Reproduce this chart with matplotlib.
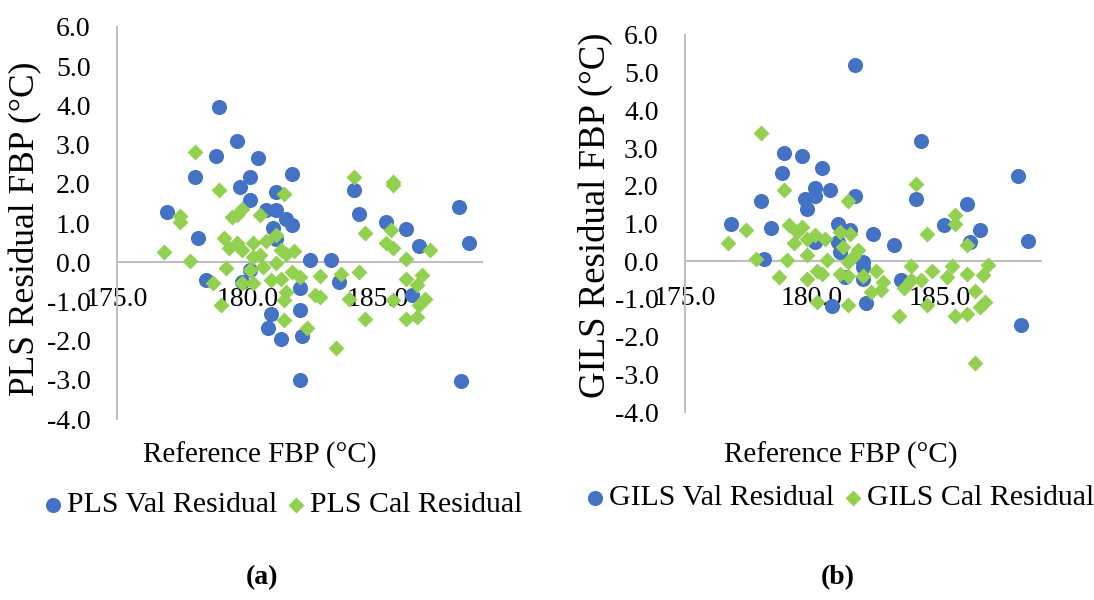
import matplotlib.pyplot as plt
from matplotlib.ticker import StrMethodFormatter

plt.rcParams['font.family'] = ['Liberation Serif', 'DejaVu Serif']
plt.rcParams['axes.unicode_minus'] = False

# (a) PLS residuals
pls_val_x = [178.9, 179.6, 178.8, 180.4, 178.0, 180.1, 181.7, 179.7, 181.1, 180.1,
             184.1, 176.9, 180.7, 181.1, 184.3, 188.1, 181.5, 181.7, 185.3, 186.1,
             188.5, 178.1, 181.0, 181.1, 186.6, 182.4, 183.2, 178.4, 180.1, 179.8,
             183.5, 182.0, 186.3, 182.0, 180.9, 180.8, 181.3, 182.1, 182.0, 188.2]
pls_val_y = [3.96, 3.09, 2.70, 2.67, 2.18, 2.18, 2.25, 1.92, 1.79, 1.58,
             1.84, 1.27, 1.34, 1.33, 1.22, 1.41, 1.10, 0.94, 1.03, 0.84,
             0.50, 0.63, 0.86, 0.60, 0.42, 0.05, 0.05, -0.46, -0.20, -0.50,
             -0.50, -0.67, -0.84, -1.21, -1.33, -1.69, -1.97, -1.89, -3.01, -3.03]

pls_cal_x = [178.0, 178.9, 184.1, 185.6, 185.6, 181.4, 177.4, 177.4, 176.8, 177.8,
             179.1, 179.4, 179.6, 179.8, 179.6, 179.3, 179.8, 180.2, 180.5, 180.7,
             181.1, 180.2, 180.5, 181.3, 181.5, 181.8, 180.6, 181.1, 179.2, 180.1,
             178.7, 179.0, 179.8, 180.2, 180.9, 181.3, 181.7, 182.0, 181.5, 181.4,
             182.6, 182.8, 182.8, 183.6, 181.4, 182.3, 183.4, 184.3, 183.9, 184.5,
             184.5, 185.5, 185.3, 185.6, 186.1, 186.1, 186.5, 186.7, 186.8, 186.6,
             186.1, 186.5, 185.6, 187.0]
pls_cal_y = [2.81, 1.85, 2.18, 2.05, 1.98, 1.75, 1.18, 1.02, 0.26, 0.03,
             0.63, 1.16, 1.20, 1.35, 0.48, 0.35, 0.31, 0.48, 1.20, 0.54,
             0.69, 0.12, 0.18, 0.31, 0.22, 0.28, -0.12, -0.03, -0.16, -0.20,
             -0.54, -1.10, -0.54, -0.54, -0.46, -0.42, -0.25, -0.37, -0.76, -0.97,
             -0.84, -0.88, -0.36, -0.29, -1.48, -1.68, -2.18, -0.25, -0.93, 0.75,
             -1.46, 0.82, 0.48, 0.35, 0.09, -0.42, -0.59, -0.33, -0.93, -1.10,
             -1.44, -1.40, -0.97, 0.32]

# (b) GILS residuals
gils_val_x = [181.7, 184.3, 178.9, 179.6, 180.4, 178.8, 188.1, 180.1, 180.7, 179.7,
              180.1, 181.7, 184.1, 178.0, 179.8, 186.1, 176.8, 181.0, 185.2, 178.4,
              181.5, 182.4, 183.2, 186.6, 186.2, 188.5, 180.1, 181.0, 181.1, 178.1,
              182.0, 182.0, 181.3, 182.0, 183.5, 180.8, 182.1, 188.2]
gils_val_y = [5.20, 3.18, 2.88, 2.79, 2.47, 2.34, 2.26, 1.95, 1.90, 1.66,
              1.73, 1.72, 1.66, 1.60, 1.38, 1.53, 1.00, 1.00, 0.95, 0.88,
              0.82, 0.71, 0.42, 0.82, 0.51, 0.53, 0.51, 0.51, 0.25, 0.07,
              -0.02, -0.15, -0.43, -0.46, -0.50, -1.19, -1.12, -1.70]

gils_cal_x = [178.0, 178.9, 184.1, 181.4, 185.6, 185.6, 176.7, 177.4, 177.8, 179.0,
              178.7, 179.1, 179.6, 179.4, 179.3, 179.8, 180.1, 180.5, 179.8, 179.8,
              180.2, 180.4, 180.6, 180.2, 181.1, 181.5, 181.2, 181.8, 181.6, 181.4,
              181.1, 181.4, 182.0, 182.5, 182.8, 182.7, 182.3, 181.4, 183.4, 183.6,
              183.9, 183.9, 184.3, 184.7, 184.5, 184.5, 185.3, 185.5, 186.1, 186.1,
              186.4, 186.1, 185.6, 186.7, 186.9, 186.6, 186.8, 186.4]
gils_cal_y = [3.39, 1.88, 2.06, 1.60, 1.22, 1.00, 0.47, 0.84, 0.07, 0.04,
              -0.43, 0.95, 0.91, 0.78, 0.49, 0.60, 0.69, 0.60, 0.16, -0.48,
              -0.26, -0.34, 0.04, -1.08, 0.78, 0.73, 0.38, 0.31, 0.11, -0.02,
              -0.33, -0.40, -0.40, -0.26, -0.55, -0.77, -0.81, -1.17, -1.46, -0.70,
              -0.50, -0.13, -0.49, -0.26, -1.17, 0.71, -0.43, -0.13, 0.42, -0.34,
              -0.79, -1.39, -1.46, -0.37, -0.11, -1.21, -1.08, -2.69]

y_ticks = [6, 5, 4, 3, 2, 1, 0, -1, -2, -3, -4]
x_ticks = [175, 180, 185]

BLUE = '#4472C4'
GREEN = '#92D050'
AXIS_GREY = '#BFBFBF'
FS = 20


def px(x):
    return x / 1094


def py(y):
    return 1 - y / 600


def make_panel(fig, rect, vx, vy, cx, cy, name, ylabel, ylab_fs, ylab_xy,
               xlabel_x, leg_xy):
    ax = fig.add_axes(rect)
    ax.scatter(vx, vy, s=118, marker='o', color=BLUE, linewidths=0,
               label=f'{name} Val Residual', zorder=3)
    ax.scatter(cx, cy, s=66, marker='D', color=GREEN, linewidths=0,
               label=f'{name} Cal Residual', zorder=4)
    ax.set_xlim(175, 189)
    ax.set_ylim(-4, 6)
    ax.set_xticks(x_ticks)
    ax.set_yticks(y_ticks)
    ax.xaxis.set_major_formatter(StrMethodFormatter('{x:.1f}'))
    ax.yaxis.set_major_formatter(StrMethodFormatter('{x:.1f}'))
    ax.tick_params(axis='both', length=0, labelsize=FS, colors='black')
    ax.tick_params(axis='y', pad=19)
    ax.tick_params(axis='x', pad=18)
    for side in ['top', 'right']:
        ax.spines[side].set_visible(False)
    ax.spines['bottom'].set_position(('data', 0))
    ax.spines['bottom'].set_color(AXIS_GREY)
    ax.spines['left'].set_color(AXIS_GREY)
    ax.spines['bottom'].set_linewidth(1.5)
    ax.spines['left'].set_linewidth(1.5)
    ax.patch.set_alpha(0)
    ax.set_ylabel(ylabel, fontsize=ylab_fs)
    ax.yaxis.set_label_coords(ylab_xy[0], ylab_xy[1], transform=fig.transFigure)
    fig.text(xlabel_x, py(455), 'Reference FBP (°C)', fontsize=21,
             ha='center', va='center')
    fig.legend(*ax.get_legend_handles_labels(), loc='center',
               bbox_to_anchor=leg_xy, ncol=2, frameon=False, fontsize=21.5,
               markerscale=1.0, handletextpad=0.0, columnspacing=0.2,
               handlelength=0.9, borderpad=0)
    return ax


fig = plt.figure(figsize=(10.94, 6.0), dpi=100)

make_panel(fig, [px(117), py(419), px(365), 392 / 600],
           pls_val_x, pls_val_y, pls_cal_x, pls_cal_y, 'PLS',
           'PLS Residual FBP (°C)', 25.5, (px(42), py(229)),
           px(260), (px(281), py(505)))
make_panel(fig, [px(685), py(412), px(356), 377 / 600],
           gils_val_x, gils_val_y, gils_cal_x, gils_cal_y, 'GILS',
           'GILS Residual FBP (°C)', 26.5, (px(613), py(215)),
           px(841), (px(838), py(498)))

fig.text(px(262), py(578), '(a)', fontsize=FS, fontweight='bold',
         ha='center', va='center')
fig.text(px(838), py(578), '(b)', fontsize=FS, fontweight='bold',
         ha='center', va='center')

fig.savefig('out.png', dpi=100, facecolor='white')
